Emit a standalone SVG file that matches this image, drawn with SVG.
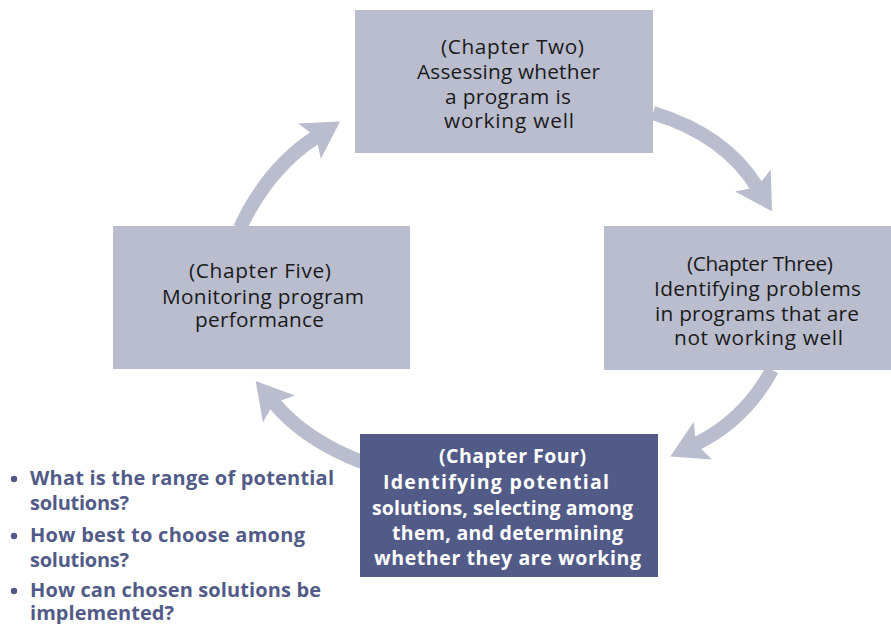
<svg xmlns="http://www.w3.org/2000/svg" width="891" height="624" viewBox="0 0 891 624">
<defs>
<style>
.box{fill:#b9bdcd}
.dark{fill:#525b88}
.t{font-family:"Open Sans","Noto Sans","Liberation Sans",sans-serif;font-size:20.8px;fill:#1a1a1a}
.tw{font-family:"Open Sans","Noto Sans","Liberation Sans",sans-serif;font-size:19.5px;font-weight:700;fill:#ffffff}
.b{font-family:"Open Sans","Noto Sans","Liberation Sans",sans-serif;font-size:20px;font-weight:700;fill:#525b88}
.arr{fill:none;stroke:#b9bdcd;stroke-width:14}
</style>
<marker id="head" markerUnits="userSpaceOnUse" markerWidth="40" markerHeight="44" viewBox="0 -20 34 40" refX="7" refY="0" orient="auto">
<path d="M0,-19 L33,0 L0,19 L7,0 Z" fill="#b9bdcd"/>
</marker>
</defs>
<rect width="891" height="624" fill="#ffffff"/>
<g id="connectors">
<path class="arr" d="M240,228 Q268,168 316,137" marker-end="url(#head)"/>
<path class="arr" d="M653,113 Q725,135 757,187" marker-end="url(#head)"/>
<path class="arr" d="M772,370 Q745,420 696,444" marker-end="url(#head)"/>
<path class="arr" d="M362,462 Q305,440 274,403" marker-end="url(#head)"/>
</g>
<g id="node-two">
<rect class="box" x="355" y="10" width="298" height="143"/>
<text class="t" x="441" y="54" textLength="143" lengthAdjust="spacing">(Chapter Two)</text>
<text class="t" x="417" y="79" textLength="183" lengthAdjust="spacing">Assessing whether</text>
<text class="t" x="445" y="104" textLength="126" lengthAdjust="spacing">a program is</text>
<text class="t" x="444" y="128" textLength="130" lengthAdjust="spacing">working well</text>
</g>
<g id="node-three">
<rect class="box" x="604" y="226" width="287" height="144"/>
<text class="t" x="687" y="271" textLength="146" lengthAdjust="spacing">(Chapter Three)</text>
<text class="t" x="654" y="296" textLength="207" lengthAdjust="spacing">Identifying problems</text>
<text class="t" x="655" y="321" textLength="204" lengthAdjust="spacing">in programs that are</text>
<text class="t" x="674" y="345" textLength="169" lengthAdjust="spacing">not working well</text>
</g>
<g id="node-five">
<rect class="box" x="113" y="226" width="297" height="143"/>
<text class="t" x="189" y="278" textLength="142" lengthAdjust="spacing">(Chapter Five)</text>
<text class="t" x="162" y="304" textLength="202" lengthAdjust="spacing">Monitoring program</text>
<text class="t" x="195" y="327" textLength="129" lengthAdjust="spacing">performance</text>
</g>
<g id="node-four">
<rect class="dark" x="360" y="434" width="298" height="143"/>
<text class="tw" x="439" y="463" textLength="147" lengthAdjust="spacing">(Chapter Four)</text>
<text class="tw" x="383" y="489" textLength="226" lengthAdjust="spacing">Identifying potential</text>
<text class="tw" x="372" y="515" textLength="261" lengthAdjust="spacing">solutions, selecting among</text>
<text class="tw" x="392" y="540" textLength="231" lengthAdjust="spacing">them, and determining</text>
<text class="tw" x="374" y="565" textLength="267" lengthAdjust="spacing">whether they are working</text>
</g>
<g id="bullets">
<circle cx="14" cy="479" r="3.2" fill="#525b88"/>
<text class="b" x="30" y="485" textLength="304" lengthAdjust="spacing">What is the range of potential</text>
<text class="b" x="30" y="510" textLength="99" lengthAdjust="spacing">solutions?</text>
<circle cx="14" cy="536" r="3.2" fill="#525b88"/>
<text class="b" x="30" y="542" textLength="275" lengthAdjust="spacing">How best to choose among</text>
<text class="b" x="30" y="567" textLength="99" lengthAdjust="spacing">solutions?</text>
<circle cx="14" cy="591" r="3.2" fill="#525b88"/>
<text class="b" x="30" y="597" textLength="291" lengthAdjust="spacing">How can chosen solutions be</text>
<text class="b" x="30" y="620" textLength="144" lengthAdjust="spacing">implemented?</text>
</g>
</svg>
